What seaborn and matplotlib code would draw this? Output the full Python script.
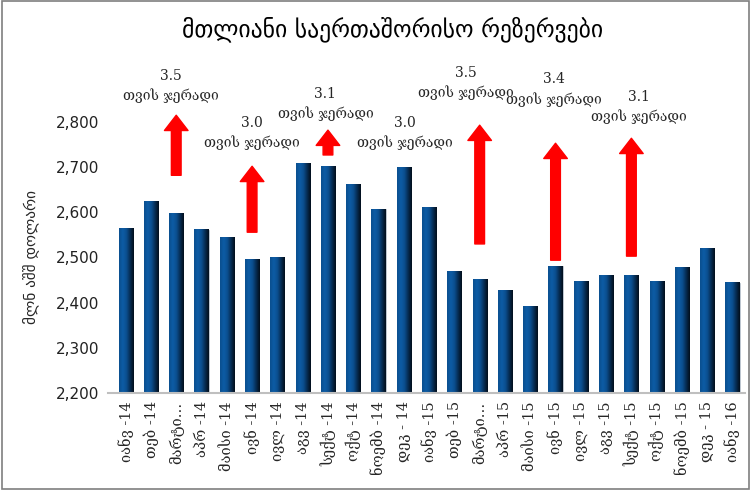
import matplotlib
matplotlib.use("Agg")
import matplotlib.pyplot as plt
import seaborn as sns
import pandas as pd
import numpy as np
from matplotlib.patches import Rectangle
from matplotlib.colors import LinearSegmentedColormap

# datos: reservas internacionales totales (mln USD)
meses = ["იანვ -14", "თებ -14", "მარტი…", "აპრ -14", "მაისი -14", "ივნ -14",
         "ივლ -14", "აგვ -14", "სექტ -14", "ოქტ -14", "ნოემბ -14", "დეკ - 14",
         "იანვ -15", "თებ -15", "მარტი…", "აპრ -15", "მაისი -15", "ივნ -15",
         "ივლ -15", "აგვ -15", "სექტ -15", "ოქტ -15", "ნოემბ -15", "დეკ - 15",
         "იანვ -16"]
reservas = [2565, 2625, 2598, 2561, 2545, 2496, 2499, 2709, 2702, 2662, 2607, 2700,
            2611, 2468, 2452, 2428, 2392, 2481, 2446, 2461, 2461, 2446, 2477, 2521,
            2444]

# flechas rojas (indice de barra, base, punta)
flecha_idx = [2, 5, 8, 14, 17, 20]
flecha_base = [2682, 2556, 2727, 2530, 2494, 2503]
flecha_punta = [2815, 2702, 2782, 2793, 2753, 2764]

# etiquetas "meses de importacion"
meses_import = ["3.5", "3.0", "3.1", "3.0", "3.5", "3.4", "3.1"]
etiqueta_x = [1.8, 5.0, 7.9, 11.05, 13.45, 16.95, 20.3]
etiqueta_y = [2880, 2776, 2840, 2776, 2887, 2872, 2834]

ymin, ymax = 2200, 2800

df = pd.DataFrame({"mes": range(len(meses)), "valor": reservas})

sns.set_theme(style="white")
plt.rcParams["font.family"] = ["DejaVu Sans"]

fig = plt.figure(figsize=(7.55, 4.9), dpi=100)
ax = fig.add_axes([0.143, 0.198, 0.844, 0.553])

sns.barplot(data=df, x="mes", y="valor", color="#0d4f8f", saturation=1,
            width=0.56, edgecolor="#c8cdd3", linewidth=0.6, ax=ax)

# degradado horizontal dentro de cada barra (efecto cilindro)
degradado = LinearSegmentedColormap.from_list(
    "barra", ["#0a4f8e", "#0d5ca6", "#0b4f90", "#062c52", "#020d1a"])
grad = np.linspace(0, 1, 64).reshape(1, -1)
for barra in list(ax.patches):
    x0 = barra.get_x()
    w, h = barra.get_width(), barra.get_height()
    ax.imshow(grad, cmap=degradado, aspect="auto", zorder=barra.get_zorder() + 0.1,
              extent=(x0, x0 + w, ymin, h), interpolation="bicubic")

ax.set_xlim(-0.7, 24.5)
ax.set_ylim(ymin, ymax)

ax.set_yticks(range(ymin, ymax + 1, 100))
ax.set_yticklabels([f"{v:,}" for v in range(ymin, ymax + 1, 100)], fontsize=11, color="#222222")
ax.set_xticks(range(len(meses)))
ax.set_xticklabels(meses, rotation=90, fontsize=10.5, family="DejaVu Serif")
ax.set_xlabel("")
ax.set_ylabel("მლნ აშშ დოლარი", fontsize=11, labelpad=12)
ax.tick_params(axis="both", length=0, pad=6)
for lado in ["top", "right", "left"]:
    ax.spines[lado].set_visible(False)
ax.spines["bottom"].set_color("#bfbfbf")
ax.spines["bottom"].set_linewidth(1.5)

for i, b, p in zip(flecha_idx, flecha_base, flecha_punta):
    ax.annotate("", xy=(i, p), xytext=(i, b), annotation_clip=False,
                arrowprops=dict(facecolor="#ff0000", edgecolor="#ff0000",
                                width=7, headwidth=17, headlength=11))

for t, x, y in zip(meses_import, etiqueta_x, etiqueta_y):
    ax.text(x, y, t + "\nთვის ჯერადი", ha="center", va="center", fontsize=10,
            family="DejaVu Serif", linespacing=1.45, clip_on=False)

fig.text(0.52, 0.94, "მთლიანი საერთაშორისო რეზერვები", ha="center", va="center",
         fontsize=17, color="black")

fig.patches.append(Rectangle((0.002, 0.002), 0.99, 0.996, transform=fig.transFigure,
                             fill=False, edgecolor="#7f7f7f", linewidth=1.2))

fig.savefig("out.png", dpi=100)
plt.close()
